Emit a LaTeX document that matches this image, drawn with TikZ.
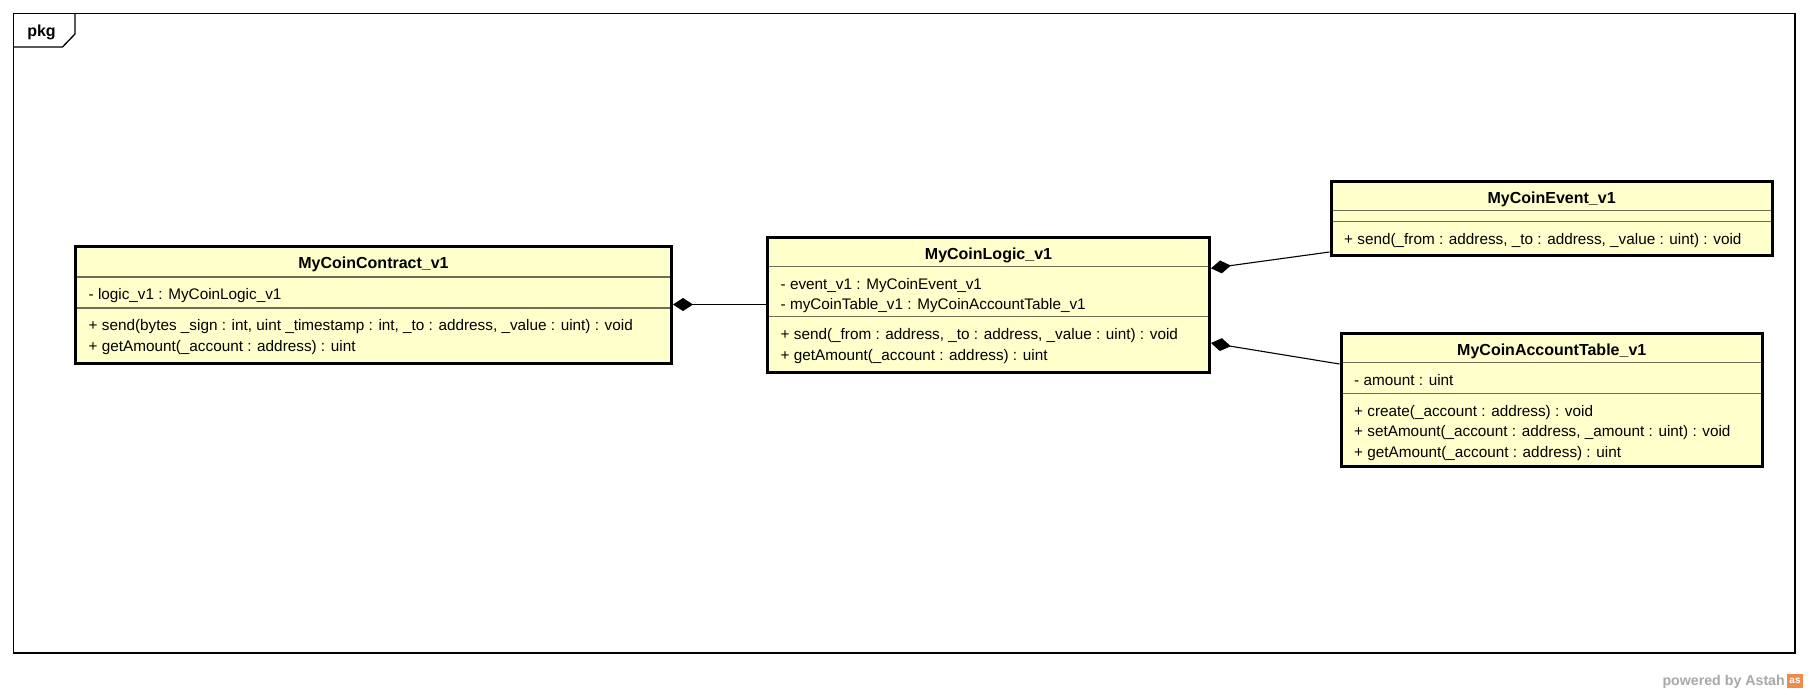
\documentclass[tikz,border=0pt]{standalone}
\usepackage{fontspec}
\setmainfont{Liberation Sans}
\usetikzlibrary{arrows.meta}
\definecolor{classfill}{HTML}{FFFFCC}
\definecolor{sepcol}{HTML}{6E6E55}
\definecolor{astahgray}{HTML}{A8A8A8}
\definecolor{astahorange}{HTML}{F08A4B}
\tikzset{
  classbox/.style={draw=black, line width=3pt, fill=classfill, rectangle, inner sep=0pt},
  sepline/.style={draw=sepcol, line width=1.2pt, shorten <=3pt, shorten >=3pt},
  member/.style={anchor=base west, inner sep=0pt, font=\fontsize{15.3}{18}\selectfont},
  ctitle/.style={anchor=base, inner sep=0pt, font=\fontsize{16}{18}\selectfont\bfseries},
  comp/.style={draw=black, line width=1.1pt, -{Diamond[length=20pt,width=13pt]}},
  framebox/.style={draw=black, line width=1.3pt},
}
\begin{document}
\begin{tikzpicture}[x=1pt,y=-1pt]
\useasboundingbox[fill=white] (0,0) rectangle (1808,693);

% package frame
\draw[framebox] (13.4,13.3) rectangle (1795,653);
\draw[framebox] (13.4,47) -- (62.5,47) -- (75,34) -- (75,13.3);
\node[ctitle] (pkg) at (41.5,37) {pkg};

% MyCoinContract_v1
\node[classbox, minimum width=596pt, minimum height=116.5pt] (contract) at (373.5,304.75) {};
\draw[sepline] (contract.west |- 0,277) -- (contract.east |- 0,277);
\draw[sepline] (contract.west |- 0,308) -- (contract.east |- 0,308);
\node[ctitle] (contractT) at (373.5,268.5) {MyCoinContract\_v1};
\node[member] (contractA1) at (88.5,299.5) {- logic\_v1 : MyCoinLogic\_v1};
\node[member] (contractM1) at (88.5,330.5) {+ send(bytes \_sign : int, uint \_timestamp : int, \_to : address, \_value : uint) : void};
\node[member] (contractM2) at (88.5,351) {+ getAmount(\_account : address) : uint};

% MyCoinLogic_v1
\node[classbox, minimum width=442pt, minimum height=135pt] (logic) at (988.5,304.5) {};
\draw[sepline] (logic.west |- 0,266.5) -- (logic.east |- 0,266.5);
\draw[sepline] (logic.west |- 0,316.7) -- (logic.east |- 0,316.7);
\node[ctitle] (logicT) at (988.5,259) {MyCoinLogic\_v1};
\node[member] (logicA1) at (780.5,289) {- event\_v1 : MyCoinEvent\_v1};
\node[member] (logicA2) at (780.5,309.5) {- myCoinTable\_v1 : MyCoinAccountTable\_v1};
\node[member] (logicM1) at (780.5,339.5) {+ send(\_from : address, \_to : address, \_value : uint) : void};
\node[member] (logicM2) at (780.5,360) {+ getAmount(\_account : address) : uint};

% MyCoinEvent_v1
\node[classbox, minimum width=441.3pt, minimum height=74pt] (event) at (1551.65,218.5) {};
\draw[sepline] (event.west |- 0,210.7) -- (event.east |- 0,210.7);
\draw[sepline] (event.west |- 0,221.7) -- (event.east |- 0,221.7);
\node[ctitle] (eventT) at (1551.65,203.5) {MyCoinEvent\_v1};
\node[member] (eventM1) at (1344,244) {+ send(\_from : address, \_to : address, \_value : uint) : void};

% MyCoinAccountTable_v1
\node[classbox, minimum width=421.5pt, minimum height=133pt] (account) at (1551.75,400) {};
\draw[sepline] (account.west |- 0,362.7) -- (account.east |- 0,362.7);
\draw[sepline] (account.west |- 0,393.3) -- (account.east |- 0,393.3);
\node[ctitle] (accountT) at (1551.75,355.5) {MyCoinAccountTable\_v1};
\node[member] (accountA1) at (1354,385) {- amount : uint};
\node[member] (accountM1) at (1354,416) {+ create(\_account : address) : void};
\node[member] (accountM2) at (1354,436.5) {+ setAmount(\_account : address, \_amount : uint) : void};
\node[member] (accountM3) at (1354,457) {+ getAmount(\_account : address) : uint};

% compositions
\draw[comp] (logic.west) -- (logic.west -| contract.east);
\draw[comp] ([yshift=-33.5pt]event.west) -- ([yshift=36.2pt]logic.east);
\draw[comp] ([yshift=36pt]account.west) -- ([yshift=-38.5pt]logic.east);

% watermark
\node[anchor=base east, inner sep=0pt, text=astahgray, font=\fontsize{14.2}{16}\selectfont\bfseries] (powered) at (1785,685) {powered by Astah};
\node[fill=astahorange, minimum width=16pt, minimum height=14pt, inner sep=0pt, text=white, font=\fontsize{10}{10}\selectfont\bfseries] (logo) at (1795,681) {as};
\end{tikzpicture}
\end{document}
